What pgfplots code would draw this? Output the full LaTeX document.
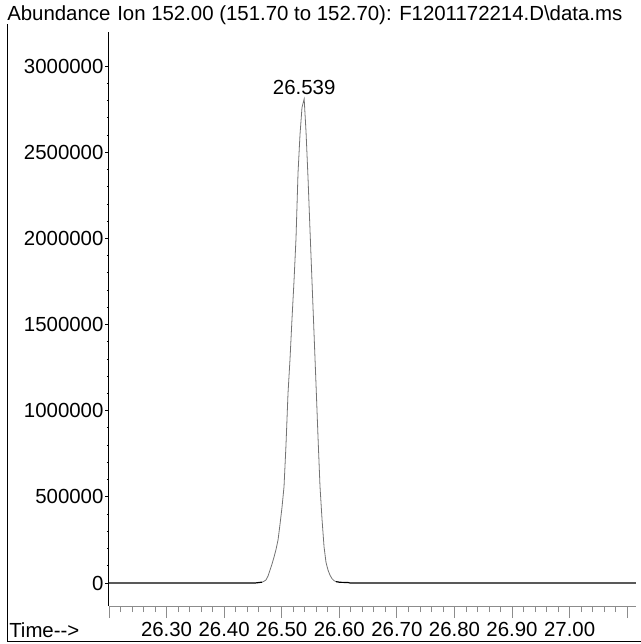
\documentclass[border=0pt]{standalone}
\usepackage{fontspec}
\setmainfont{Liberation Sans}
\usepackage{pgfplots}
\pgfplotsset{compat=1.18}
\begin{document}
\fontsize{15.3pt}{18pt}\selectfont
\begin{tikzpicture}
\useasboundingbox (0,0) rectangle (641*0.75pt,-644*0.75pt);
\draw[line width=0.9pt] (7.5*0.75pt,-24*0.75pt) -- (7.5*0.75pt,-641.5*0.75pt) -- (641*0.75pt,-641.5*0.75pt);
\node[anchor=base west, inner sep=0pt] at (7*0.75pt,-20.5*0.75pt) {Abundance};
\node[anchor=base west, inner sep=0pt] at (117*0.75pt,-20.5*0.75pt) {Ion 152.00 (151.70 to 152.70): F1201172214.D\textbackslash data.ms};
\node[anchor=base west, inner sep=0pt] at (9*0.75pt,-637*0.75pt) {Time-{}-{}>};
% x axis with ticks
\begin{axis}[
 at={(109*0.75pt,-606*0.75pt)}, anchor=south west,
 scale only axis, width=395.1pt, height=430.7pt,
 xmin=26.2, xmax=27.115, ymin=-133500, ymax=3200000,
 axis y line=none, axis x line=bottom,
 axis line style={-, black!45, line width=0.6pt},
 xtick={26.2,26.3,26.4,26.5,26.6,26.7,26.8,26.9,27.0,27.1},
 xticklabels={,26.30,26.40,26.50,26.60,26.70,26.80,26.90,27.00,},
 minor x tick num=4,
 tick align=outside, major tick length=9pt, minor tick length=4.5pt,
 xtick style={black!45, line width=0.6pt},
 xticklabel style={inner sep=0pt, yshift=-3pt, text=black},
 ytick=\empty,
]
\end{axis}
% y axis and data
\begin{axis}[
 at={(109*0.75pt,-606*0.75pt)}, anchor=south west,
 scale only axis, width=395.1pt, height=430.7pt,
 xmin=26.2, xmax=27.115, ymin=-133500, ymax=3200000,
 axis x line=none, axis y line=left,
 axis line style={-, black, line width=0.75pt},
 xtick=\empty,
 ytick={0,500000,1000000,1500000,2000000,2500000,3000000},
 yticklabels={0,500000,1000000,1500000,2000000,2500000,3000000},
 minor y tick num=4,
 tick align=outside, major tick length=3pt, minor tick length=1.5pt,
 ytick style={black, line width=0.75pt},
 yticklabel style={inner sep=1pt},
 scaled y ticks=false,
 clip=false,
]
\addplot[black, line width=0.9pt] coordinates {(26.2,0) (26.4536,0) (26.4588,2000) (26.4623,3500) (26.4658,5000)};
\addplot[black!55, line width=0.6pt] coordinates {
(26.4658,5000) (26.4693,10000) (26.4727,18000) (26.4762,40000) (26.4797,75000)
(26.4831,110000) (26.4866,150000) (26.4901,195000) (26.4936,250000) (26.4970,340000)
(26.5005,440000) (26.5040,560000) (26.5074,800000) (26.5109,1100000) (26.5144,1300000)
(26.5178,1530000) (26.5213,1750000) (26.5248,2000000) (26.5283,2380000) (26.5317,2600000)
(26.5352,2760000) (26.5390,2810000) (26.5422,2620000) (26.5457,2350000) (26.5491,2050000)
(26.5526,1750000) (26.5561,1450000) (26.5596,1150000) (26.5630,850000) (26.5665,560000)
(26.5700,370000) (26.5735,210000) (26.5769,120000) (26.5804,75000) (26.5839,45000)
(26.5874,25000) (26.5908,14000) (26.5943,8000)};
\addplot[black, line width=0.9pt] coordinates {(26.5943,8000) (26.6012,4000) (26.6151,3000) (26.6186,0) (27.115,0)};
\node[anchor=south, inner sep=0pt, yshift=3pt] at (axis cs:26.539,2810000) {26.539};
\end{axis}
\end{tikzpicture}
\end{document}
